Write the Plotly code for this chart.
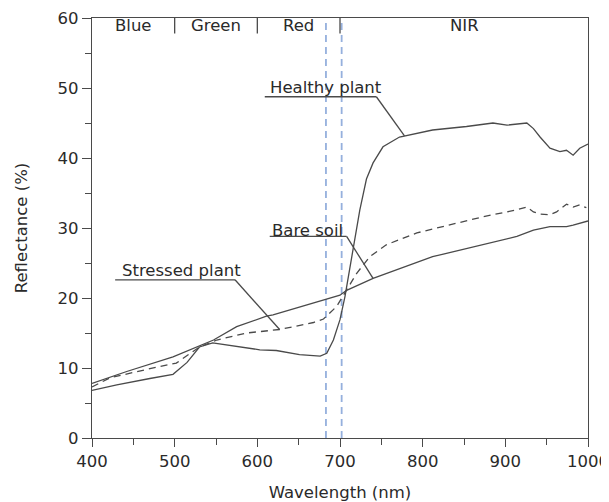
import numpy as np
import plotly.graph_objects as go

# ---- data ----
healthy_wl = [400, 430, 470, 498, 515, 530, 546, 563, 585, 603, 623, 651, 676, 684, 692, 700, 706, 714, 724, 732, 740, 752, 772, 812, 853, 885, 902, 926, 934, 942, 954, 966, 974, 982, 990, 1000]
healthy_rf = [6.8, 7.6, 8.5, 9.1, 10.8, 13.0, 13.6, 13.3, 12.9, 12.6, 12.5, 11.9, 11.7, 12.1, 14.0, 16.9, 20.2, 26.0, 32.6, 37.0, 39.3, 41.6, 43.0, 44.0, 44.5, 45.0, 44.7, 45.0, 44.2, 43.0, 41.4, 40.9, 41.1, 40.4, 41.4, 42.0]

soil_wl = [400, 442, 498, 547, 575, 611, 619, 668, 700, 708, 740, 812, 873, 914, 934, 954, 974, 982, 1000]
soil_rf = [7.8, 9.5, 11.6, 14.0, 15.9, 17.4, 17.6, 19.3, 20.4, 21.1, 22.8, 25.9, 27.6, 28.8, 29.7, 30.2, 30.2, 30.4, 31.0]

stressed_wl = [400, 422, 470, 502, 530, 551, 587, 627, 668, 680, 696, 708, 720, 736, 756, 793, 833, 873, 914, 926, 934, 942, 954, 962, 974, 982, 990, 998]
stressed_rf = [7.3, 8.6, 9.9, 10.7, 13.0, 14.0, 15.0, 15.5, 16.5, 17.0, 18.8, 21.1, 23.5, 25.9, 27.6, 29.3, 30.4, 31.6, 32.6, 33.0, 32.3, 32.0, 31.9, 32.3, 33.4, 33.0, 33.3, 32.9]

band_names = ["Blue", "Green", "Red", "NIR"]
band_centers = [450, 550, 650, 850]
band_edges = [500, 600, 700]
marker_lines = [683, 702]

x_ticks = [400, 500, 600, 700, 800, 900, 1000]
y_ticks = [0, 10, 20, 30, 40, 50, 60]

# label: (text x, text y, underline x0, underline x1, underline y, curve, target wavelength)
labels = {
    "Healthy plant": (683, 50.1, 609, 744, 48.75, "healthy", 778),
    "Bare soil": (661, 29.7, 615, 708, 28.8, "soil", 740),
    "Stressed plant": (508, 24.0, 428, 573, 22.6, "stressed", 627),
}

curves = {
    "healthy": (healthy_wl, healthy_rf),
    "soil": (soil_wl, soil_rf),
    "stressed": (stressed_wl, stressed_rf),
}

LINE = "#4a4a4a"
TEXT = "#2a2a2a"
FONT = "DejaVu Sans, sans-serif"
FS = 16.5

fig = go.Figure()
fig.add_trace(go.Scatter(x=soil_wl, y=soil_rf, mode="lines",
                         line=dict(color=LINE, width=1.3), name="Bare soil"))
fig.add_trace(go.Scatter(x=stressed_wl, y=stressed_rf, mode="lines",
                         line=dict(color=LINE, width=1.3, dash="7px,5px"), name="Stressed plant"))
fig.add_trace(go.Scatter(x=healthy_wl, y=healthy_rf, mode="lines",
                         line=dict(color=LINE, width=1.3), name="Healthy plant"))

shapes = []
for xv in marker_lines:
    shapes.append(dict(type="line", xref="x", yref="y", x0=xv, x1=xv, y0=0, y1=60,
                       line=dict(color="#95b0dd", width=1.8, dash="7px,5px"), layer="below"))
for xv in band_edges:
    shapes.append(dict(type="line", xref="x", yref="y", x0=xv, x1=xv, y0=60, y1=57.8,
                       line=dict(color=LINE, width=1.3)))

annotations = []
for name, xc in zip(band_names, band_centers):
    annotations.append(dict(x=xc, y=58.9, xref="x", yref="y", text=name, showarrow=False,
                            font=dict(size=FS, color=TEXT, family=FONT)))

for text, (tx, ty, u0, u1, uy, key, tw) in labels.items():
    cx, cy = curves[key]
    ty_curve = float(np.interp(tw, cx, cy))
    annotations.append(dict(x=tx, y=ty, xref="x", yref="y", text=text, showarrow=False,
                            font=dict(size=FS, color=TEXT, family=FONT)))
    shapes.append(dict(type="line", xref="x", yref="y", x0=u0, x1=u1, y0=uy, y1=uy,
                       line=dict(color=LINE, width=1.3)))
    shapes.append(dict(type="line", xref="x", yref="y", x0=u1, x1=tw, y0=uy, y1=ty_curve,
                       line=dict(color=LINE, width=1.3)))

# page body has an 8px default margin, so the figure is sized to 601x494
fig.update_layout(
    width=601, height=494,
    margin=dict(l=84, r=21, t=10, b=64),
    paper_bgcolor="white", plot_bgcolor="white",
    showlegend=False,
    shapes=shapes, annotations=annotations,
    font=dict(family=FONT, size=FS, color=TEXT),
)
fig.update_xaxes(
    range=[400, 1000], tickvals=x_ticks, ticks="outside", ticklen=8, tickwidth=1.3, tickcolor=LINE,
    showline=True, linecolor=LINE, linewidth=1.3, mirror=True, showgrid=False, zeroline=False,
    automargin=False, ticklabeloverflow="allow",
    minor=dict(tickvals=[450, 550, 650, 750, 850, 950], ticks="outside", ticklen=6, tickcolor=LINE, tickwidth=1.3),
    title=dict(text="Wavelength (nm)", font=dict(size=FS, color=TEXT), standoff=16),
    tickfont=dict(size=FS, color=TEXT),
)
fig.update_yaxes(
    range=[0, 60], tickvals=y_ticks, ticks="outside", ticklen=9, tickwidth=1.3, tickcolor=LINE,
    showline=True, linecolor=LINE, linewidth=1.3, mirror=True, showgrid=False, zeroline=False,
    automargin=False,
    minor=dict(tickvals=[5, 15, 25, 35, 45, 55], ticks="outside", ticklen=6, tickcolor=LINE, tickwidth=1.3),
    title=dict(text="Reflectance (%)", font=dict(size=FS, color=TEXT), standoff=25),
    tickfont=dict(size=FS, color=TEXT),
)

fig.write_html("out.html")
